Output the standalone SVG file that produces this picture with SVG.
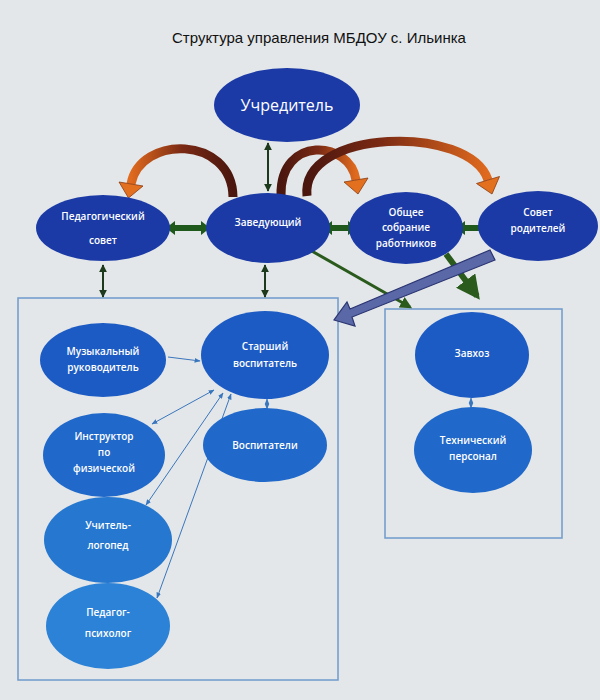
<svg xmlns="http://www.w3.org/2000/svg" width="600" height="700" viewBox="0 0 600 700">
<defs>
<style>
.lbl{font-family:"Open Sans","Liberation Sans",sans-serif;font-size:10px;fill:#ffffff;text-anchor:middle;font-weight:600}
.top{fill:#1b3aa6}
.n1{fill:#1d5bc4}
.n2{fill:#2068c9}
.n3{fill:#2677cf}
.n4{fill:#2c82d6}
.box{fill:none;stroke:#6f9bcb;stroke-width:1.5}
.thin{fill:none;stroke:#3a76bd;stroke-width:1}
.dk{fill:none;stroke:#1e3a1c;stroke-width:2}
.gbar{fill:#1f5a1c}
.curve{fill:none;stroke-width:9}
.head{fill:#e3701f;stroke:#8a3a10;stroke-width:0.8}
</style>
<marker id="ah" viewBox="0 0 10 10" refX="9" refY="5" markerWidth="6" markerHeight="6" orient="auto-start-reverse"><path d="M0,1 L10,5 L0,9 z" fill="#3a76bd"/></marker>
<marker id="dh" viewBox="0 0 10 10" refX="9" refY="5" markerWidth="4" markerHeight="4" orient="auto-start-reverse"><path d="M0,0 L10,5 L0,10 z" fill="#1e3a1c"/></marker>
<marker id="gh" viewBox="0 0 10 10" refX="8" refY="5" markerWidth="4" markerHeight="4" orient="auto"><path d="M0,0 L10,5 L0,10 z" fill="#2a5a1c"/></marker>
<linearGradient id="g1" gradientUnits="userSpaceOnUse" x1="233" y1="0" x2="131" y2="0"><stop offset="0" stop-color="#4a160e"/><stop offset="0.5" stop-color="#7a2a14"/><stop offset="1" stop-color="#e06a1e"/></linearGradient>
<linearGradient id="g2" gradientUnits="userSpaceOnUse" x1="281" y1="0" x2="356" y2="0"><stop offset="0" stop-color="#4a160e"/><stop offset="0.5" stop-color="#7a2a14"/><stop offset="1" stop-color="#e06a1e"/></linearGradient>
<linearGradient id="g3" gradientUnits="userSpaceOnUse" x1="307" y1="0" x2="488" y2="0"><stop offset="0" stop-color="#4a160e"/><stop offset="0.4" stop-color="#7a2a14"/><stop offset="1" stop-color="#e06a1e"/></linearGradient>
</defs>
<rect width="600" height="700" fill="#e3e7e9"/>
<text x="172" y="43" font-family="Liberation Sans, Arial, sans-serif" font-size="15" fill="#111">Структура управления МБДОУ с. Ильинка</text>

<g id="boxes">
<rect class="box" x="18" y="298" width="320" height="382"/>
<rect class="box" x="385" y="309" width="177" height="229"/>
</g>

<g id="connectors">
<path class="curve" stroke="url(#g1)" d="M233 197 C232 135,140 135,131 184"/>
<polygon class="head" points="119,182 143,186 128.5,198"/>
<path class="curve" stroke="url(#g2)" d="M281 195 C280 135,350 140,356 180"/>
<polygon class="head" points="344,182 368,178 358,194"/>
<path class="curve" stroke="url(#g3)" d="M307 196 C300 128,470 124,488 180"/>
<polygon class="head" points="476.5,183.5 499.5,176.5 492,194"/>

<line class="dk" x1="268" y1="143" x2="268" y2="191" marker-start="url(#dh)" marker-end="url(#dh)"/>
<polygon class="gbar" points="166,228 175,221 175,225 201,225 201,221 210,228 201,235 201,231 175,231 175,235"/>
<polygon class="gbar" points="323,228 332,221 332,225 348,225 348,221 357,228 348,235 348,231 332,231 332,235"/>
<polygon class="gbar" points="456,228 465,221 465,225 481,225 481,221 490,228 481,235 481,231 465,231 465,235"/>

<line class="dk" x1="103" y1="265" x2="103" y2="297" marker-start="url(#dh)" marker-end="url(#dh)"/>
<line class="dk" x1="265" y1="265" x2="265" y2="297" marker-start="url(#dh)" marker-end="url(#dh)"/>

<line x1="310" y1="250" x2="410" y2="307" stroke="#2a5a1c" stroke-width="3" marker-end="url(#gh)"/>
<line x1="446" y1="254" x2="477" y2="296" stroke="#2a5a1c" stroke-width="6" marker-end="url(#gh)"/>

<polygon points="490,250 495,260 352,317 355,326 334,320 347,302 350,309" fill="#5a68a8" stroke="#2b3572" stroke-width="1.2"/>

<line class="thin" x1="168" y1="357" x2="200" y2="361" marker-end="url(#ah)"/>
<line class="thin" x1="152" y1="424" x2="214" y2="390" marker-start="url(#ah)" marker-end="url(#ah)"/>
<line class="thin" x1="146" y1="505" x2="223" y2="393" marker-start="url(#ah)" marker-end="url(#ah)"/>
<line class="thin" x1="157" y1="598" x2="231" y2="394" marker-start="url(#ah)" marker-end="url(#ah)"/>
<line class="thin" x1="267" y1="399" x2="267" y2="409" marker-start="url(#ah)" marker-end="url(#ah)"/>
<line class="thin" x1="471" y1="398" x2="471" y2="408" marker-start="url(#ah)" marker-end="url(#ah)"/>
</g>

<g id="uchreditel"><ellipse class="top" cx="287" cy="105" rx="73" ry="37"/><text class="lbl" x="287" y="111" font-size="16" style="font-size:16px;font-weight:400">Учредитель</text></g>
<g id="pedsovet"><ellipse class="top" cx="103" cy="228" rx="67" ry="33"/><text class="lbl" x="103" y="220">Педагогический</text><text class="lbl" x="103" y="244">совет</text></g>
<g id="zaveduyushchiy"><ellipse class="top" cx="268" cy="228" rx="62" ry="35"/><text class="lbl" x="268" y="226">Заведующий</text></g>
<g id="obshchee"><ellipse class="top" cx="406" cy="228" rx="57" ry="36"/><text class="lbl" x="406" y="216">Общее</text><text class="lbl" x="406" y="231">собрание</text><text class="lbl" x="406" y="247">работников</text></g>
<g id="sovet-roditeley"><ellipse class="top" cx="538" cy="226" rx="60" ry="35"/><text class="lbl" x="538" y="216">Совет</text><text class="lbl" x="538" y="232">родителей</text></g>

<g id="muz"><ellipse class="n1" cx="103" cy="360" rx="63" ry="37"/><text class="lbl" x="103" y="355">Музыкальный</text><text class="lbl" x="103" y="371">руководитель</text></g>
<g id="starshiy"><ellipse class="n1" cx="265" cy="355" rx="64" ry="44"/><text class="lbl" x="265" y="350">Старший</text><text class="lbl" x="265" y="367">воспитатель</text></g>
<g id="instruktor"><ellipse class="n2" cx="104" cy="455" rx="61" ry="42"/><text class="lbl" x="104" y="440">Инструктор</text><text class="lbl" x="104" y="456">по</text><text class="lbl" x="104" y="472">физической</text></g>
<g id="vospitateli"><ellipse class="n2" cx="265" cy="445" rx="62" ry="37"/><text class="lbl" x="265" y="449">Воспитатели</text></g>
<g id="logoped"><ellipse class="n3" cx="108" cy="540" rx="64" ry="43"/><text class="lbl" x="108" y="529">Учитель-</text><text class="lbl" x="108" y="549">логопед</text></g>
<g id="psiholog"><ellipse class="n4" cx="108" cy="626" rx="62" ry="43"/><text class="lbl" x="108" y="616">Педагог-</text><text class="lbl" x="108" y="637">психолог</text></g>

<g id="zavhoz"><ellipse class="n1" cx="472" cy="355" rx="57" ry="43"/><text class="lbl" x="472" y="357">Завхоз</text></g>
<g id="tehpersonal"><ellipse class="n2" cx="473" cy="450" rx="59" ry="43"/><text class="lbl" x="473" y="444">Технический</text><text class="lbl" x="473" y="460">персонал</text></g>
</svg>
